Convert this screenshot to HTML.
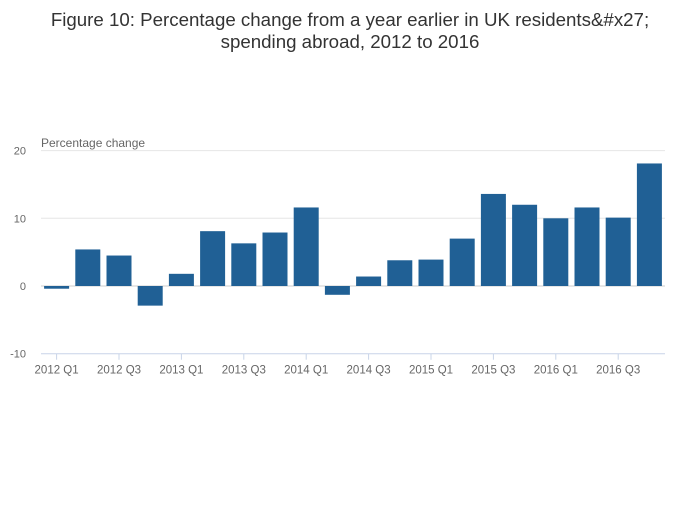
<!DOCTYPE html>
<html><head><meta charset="utf-8"><style>
body{margin:0;background:#fff;font-family:"Liberation Sans",sans-serif;}
svg text{font-family:"Liberation Sans",sans-serif;}
</style></head><body>
<svg id="c" width="700" height="502" xmlns="http://www.w3.org/2000/svg">
<text x="350" y="26" text-anchor="middle" font-size="18.7" fill="#333">Figure 10: Percentage change from a year earlier in UK residents&amp;#x27;</text>
<text x="350" y="48" text-anchor="middle" font-size="18.7" fill="#333">spending abroad, 2012 to 2016</text>
<text x="41" y="147" font-size="12" fill="#666">Percentage change</text>
<g id="grid"></g><g id="bars"></g><g id="xaxis"></g>
</svg>
<script>
const categories=["2012 Q1","2012 Q2","2012 Q3","2012 Q4","2013 Q1","2013 Q2","2013 Q3","2013 Q4","2014 Q1","2014 Q2","2014 Q3","2014 Q4","2015 Q1","2015 Q2","2015 Q3","2015 Q4","2016 Q1","2016 Q2","2016 Q3","2016 Q4"];
const values=[-0.4,5.4,4.5,-2.9,1.8,8.1,6.3,7.9,11.6,-1.3,1.4,3.8,3.9,7.0,13.6,12.0,10.0,11.6,10.1,18.1];
const yTicks=[-10,0,10,20];
const xLabels=["2012 Q1","2012 Q3","2013 Q1","2013 Q3","2014 Q1","2014 Q3","2015 Q1","2015 Q3","2016 Q1","2016 Q3"];
const NS="http://www.w3.org/2000/svg";
const x0=41,x1=665,band=(x1-x0)/categories.length;
const y=v=>286-v*6.77;
const xc=i=>x0+band*(i+0.5);
function mk(t,a,p){const e=document.createElementNS(NS,t);for(const k in a)e.setAttribute(k,a[k]);p.appendChild(e);return e;}
const g=document.getElementById('grid');
yTicks.forEach(t=>{
  const l=mk('line',{x1:x0,x2:x1,y1:y(t),y2:y(t),stroke:t===-10?'#c8d4e8':(t===0?'#ccc':'#e6e6e6'),'stroke-width':1},g);
  
  
  const tx=mk('text',{x:26,y:y(t)+4,'text-anchor':'end','font-size':11,fill:'#666'},g);
  tx.textContent=t;
  
  
});
const b=document.getElementById('bars');
values.forEach((v,i)=>{
  const r=mk('rect',{x:xc(i)-12.5,width:25,y:Math.min(y(v),y(0)),height:Math.abs(y(v)-y(0)),fill:'#206095'},b);
  
  
});
const xa=document.getElementById('xaxis');
categories.forEach((c,i)=>{
  if(xLabels.includes(c)){
    const t=mk('line',{x1:xc(i),x2:xc(i),y1:y(-10),y2:y(-10)+6,stroke:'#c8d4e8'},xa);
    
    
    const tx=mk('text',{x:xc(i),y:y(-10)+20,'text-anchor':'middle','font-size':11.5,fill:'#666'},xa);
    tx.textContent=c;
    
    
  }
});
</script>
</body></html>
